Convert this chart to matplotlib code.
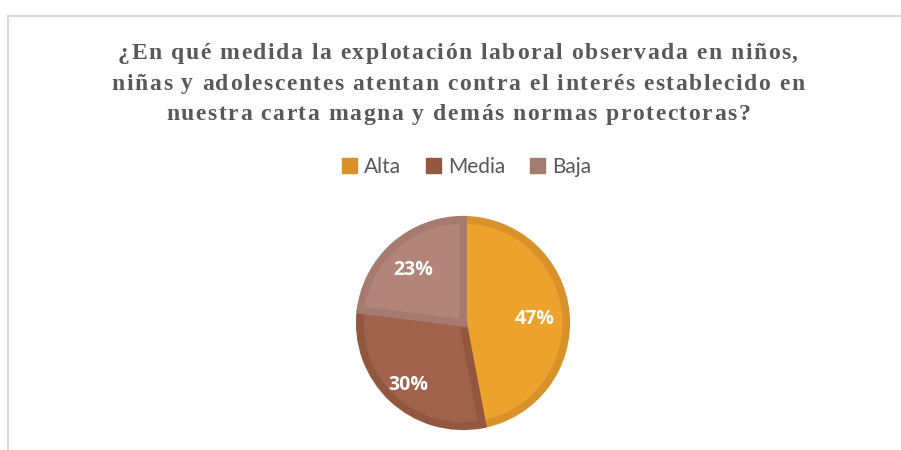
import numpy as np
import matplotlib.pyplot as plt
from matplotlib.patches import Patch, Rectangle
from matplotlib.font_manager import FontProperties

labels = ['Alta', 'Media', 'Baja']
values = [47, 30, 23]
fill_colors = ['#EDA22E', '#A0624A', '#B3857A']
edge_colors = ['#D9922A', '#93563F', '#A57A6F']
label_dist = [0.67, 0.75, 0.70]

title_lines = ['¿En qué medida la explotación laboral observada en niños,',
               'niñas y adolescentes atentan contra el interés establecido en',
               'nuestra carta magna y demás normas protectoras?']

W, H = 901, 450
fig = plt.figure(figsize=(W / 100, H / 100), dpi=100)
renderer = fig.canvas.get_renderer()

# chart frame (cut off at right and bottom)
fig.patches.append(Rectangle((8 / W, -0.1), 1.0, 1 - 16 / H + 0.1,
                             transform=fig.transFigure, fill=False,
                             edgecolor='#D9D9D9', linewidth=1.5))

# title with letter spacing, drawn char by char
tprop = FontProperties(family='Liberation Serif', weight='bold', size=17)
char_w = [[renderer.get_text_width_height_descent(ch, tprop, ismath=False)[0]
           for ch in line] for line in title_lines]
spacing = (680 - sum(char_w[0])) / (len(title_lines[0]) - 1)
for i, (line, widths) in enumerate(zip(title_lines, char_w)):
    total = sum(widths) + spacing * (len(line) - 1)
    x = 458 - total / 2
    y = 59 + 30.5 * i  # baseline
    for ch, w in zip(line, widths):
        fig.text(x / W, 1 - y / H, ch, ha='left', va='baseline',
                 fontproperties=tprop, color='#595959')
        x += w + spacing

handles = [Patch(facecolor=c, edgecolor=c) for c in edge_colors]
fig.legend(handles, labels, loc='center', bbox_to_anchor=(0.518, 1 - 167 / H),
           ncol=3, frameon=False, prop={'family': 'Lato', 'size': 15},
           labelcolor='#595959', handlelength=0.7, handleheight=0.7,
           handletextpad=0.35, columnspacing=1.2)

ax = fig.add_axes([(463 - 107) / W, (H - 430) / H, 214 / W, 214 / H])
wedges, texts, autotexts = ax.pie(
    values, colors=fill_colors, startangle=90, counterclock=False,
    radius=0.965, autopct='%1.0f%%', pctdistance=0.7,
    wedgeprops={'linewidth': 5.5, 'joinstyle': 'miter'},
    textprops={'color': 'white', 'fontsize': 14, 'fontweight': 'bold',
               'family': 'Open Sans'})
for w, ec, t, d in zip(wedges, edge_colors, autotexts, label_dist):
    w.set_edgecolor(ec)
    ang = np.deg2rad((w.theta1 + w.theta2) / 2)
    t.set_position((d * np.cos(ang), d * np.sin(ang) - 0.03))
ax.set_xlim(-1, 1)
ax.set_ylim(-1, 1)
ax.set_aspect('equal')
ax.axis('off')

fig.savefig('out.png', dpi=100)
